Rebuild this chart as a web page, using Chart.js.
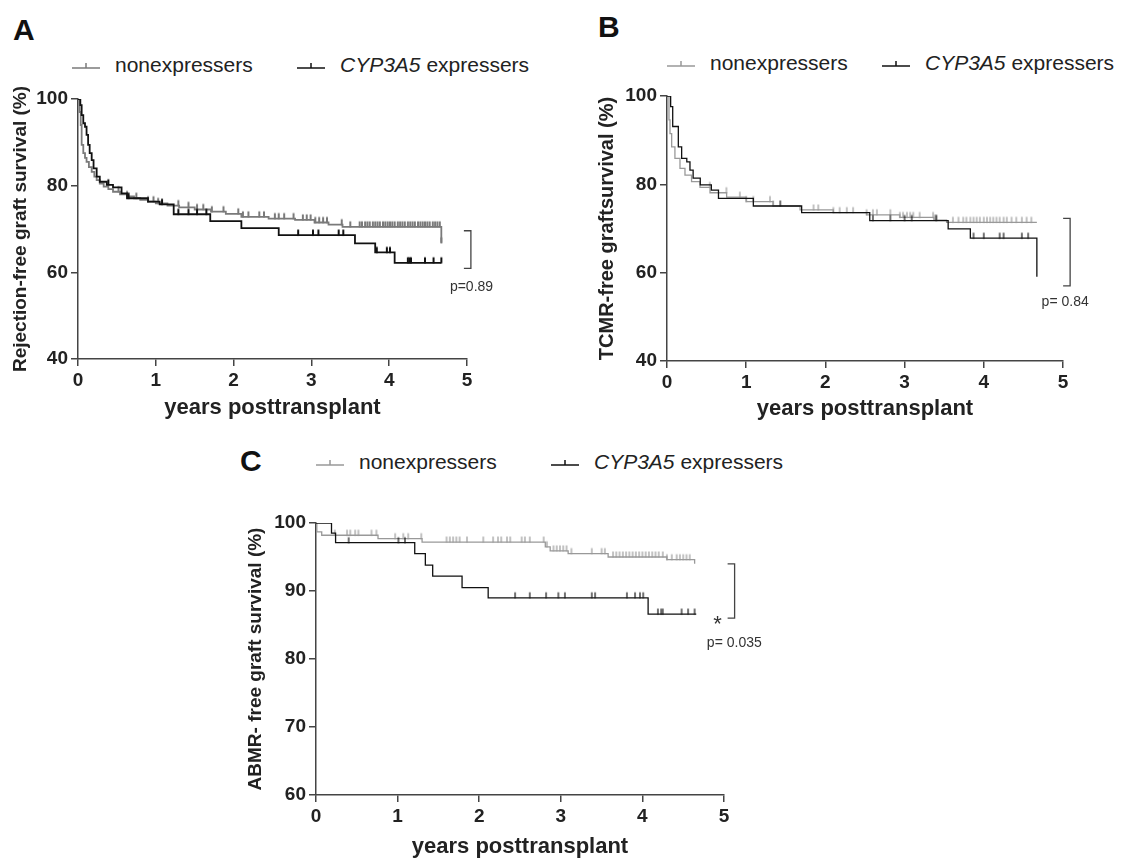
<!DOCTYPE html>
<html>
<head>
<meta charset="utf-8">
<script src="https://cdn.jsdelivr.net/npm/chart.js@4.4.1/dist/chart.umd.min.js"></script>
<style>
  body { margin: 0; width: 1131px; height: 858px; background: #fff; position: relative; overflow: hidden;
         font-family: "Liberation Sans", Arial, sans-serif; color: #222; }
  .panel { position: absolute; }
  .letter { position: absolute; font-weight: bold; font-size: 30px; line-height: 1; color: #111; }
  .item { position: absolute; display: flex; align-items: center; height: 26px; font-size: 21px; white-space: nowrap; }
  .item svg { margin-right: 15px; }
</style>
</head>
<body>

<div class="letter" style="left:13px; top:15px;">A</div>
<div class="letter" style="left:598px; top:12px;">B</div>
<div class="letter" style="left:240px; top:446px;">C</div>

<div id="legA"></div>
<div id="legB"></div>
<div id="legC"></div>

<div class="panel" style="left:0px; top:80px; width:530px; height:350px;"><canvas id="chartA"></canvas></div>
<div class="panel" style="left:580px; top:80px; width:551px; height:350px;"><canvas id="chartB"></canvas></div>
<div class="panel" style="left:230px; top:500px; width:560px; height:370px;"><canvas id="chartC"></canvas></div>

<script>
const seriesNames = ['nonexpressers', 'CYP3A5 expressers'];
const xTicks = [0, 1, 2, 3, 4, 5];
const yTicksAB = [40, 60, 80, 100];
const yTicksC = [60, 70, 80, 90, 100];

// A: rejection-free graft survival (time in years, survival %)
const aNonT = [0, 0.02, 0.035, 0.047, 0.068, 0.09, 0.11, 0.14, 0.176, 0.21, 0.24, 0.28, 0.33, 0.39, 0.45, 0.54, 0.63, 0.72, 0.8, 0.9, 1.0, 1.15, 1.3, 1.5, 1.71, 1.9, 2.1, 2.45, 2.79, 3.04, 3.22, 3.4, 4.67];
const aNonS = [100, 97, 94, 89.4, 87.5, 86.4, 85.5, 84.3, 83.2, 82.1, 81.3, 80.5, 79.8, 79.2, 78.6, 78.0, 77.5, 77.1, 76.7, 76.3, 75.9, 75.4, 75.0, 74.5, 74.0, 73.5, 72.8, 72.4, 72.1, 71.5, 71.0, 70.5, 66.8];
const aExpT = [0, 0.03, 0.047, 0.068, 0.09, 0.11, 0.13, 0.15, 0.176, 0.2, 0.24, 0.28, 0.37, 0.45, 0.56, 0.63, 0.9, 1.05, 1.23, 1.70, 2.10, 2.58, 3.56, 3.82, 4.07, 4.67];
const aExpS = [100, 98.6, 96.3, 94.4, 93.6, 91.7, 89.4, 87.5, 85.9, 84.0, 82.1, 80.9, 80.2, 79.6, 78.2, 77.1, 76.3, 75.7, 73.4, 71.8, 70.2, 68.6, 66.7, 64.6, 62.2, 62.2];
const aNonCens = [0.52, 0.63, 0.75, 0.9, 0.97, 1.03, 1.29, 1.42, 1.53, 1.61, 1.72, 1.87, 2.06, 2.12, 2.19, 2.33, 2.39, 2.53, 2.58, 2.65, 2.77, 2.89, 2.94, 2.99, 3.05, 3.1, 3.15, 3.2, 3.39, 3.5,
  3.62, 3.65, 3.69, 3.72, 3.75, 3.79, 3.82, 3.85, 3.88, 3.92, 3.95, 3.98, 4.01, 4.04, 4.07, 4.11, 4.14, 4.17, 4.2, 4.24, 4.27, 4.3, 4.33, 4.37, 4.4, 4.43, 4.46, 4.49, 4.52, 4.56, 4.59, 4.62, 4.65, 4.67];
const aExpCens = [0.39, 0.65, 1.08, 1.29, 1.42, 1.53, 1.65, 2.83, 3.02, 3.09, 3.35, 3.41, 3.84, 3.97, 4.01, 4.24, 4.26, 4.28, 4.46, 4.57, 4.67];

// B: TCMR-free graft survival
const bNonT = [0, 0.025, 0.038, 0.059, 0.1, 0.164, 0.227, 0.31, 0.417, 0.543, 0.753, 1.0, 1.34, 1.68, 2.1, 2.52, 2.94, 3.37, 3.53, 4.67];
const bNonS = [100, 94.6, 91.5, 88.5, 85.9, 83.6, 82.1, 80.6, 79.3, 78.1, 77.1, 76.1, 75.1, 74.2, 73.6, 73.1, 72.5, 71.9, 71.4, 71.4];
const bExpT = [0, 0.046, 0.072, 0.143, 0.185, 0.25, 0.29, 0.33, 0.42, 0.56, 0.65, 1.09, 1.7, 2.56, 3.55, 3.83, 4.67];
const bExpS = [100, 97.6, 93.1, 88.5, 85.9, 85.1, 83.2, 81.4, 79.9, 78.7, 76.8, 75.1, 73.6, 71.8, 69.9, 67.8, 59.1];
const bNonCens = [0.54, 0.75, 0.92, 1.0, 1.09, 1.3, 1.34, 1.85, 1.91, 2.1, 2.18, 2.27, 2.35, 2.52, 2.6, 2.65, 2.82, 2.94, 2.98, 3.03, 3.07, 3.11, 3.19, 3.36, 3.38, 3.4,
  3.61, 3.68, 3.74, 3.78, 3.83, 3.87, 3.91, 3.95, 4.0, 4.04, 4.08, 4.12, 4.16, 4.2, 4.25, 4.29, 4.35, 4.41, 4.48, 4.54, 4.6];
const bExpCens = [1.43, 2.6, 2.82, 3.0, 3.09, 3.4, 3.87, 4.0, 4.2, 4.25, 4.48, 4.56];

// C: ABMR-free graft survival
const cNonT = [0, 0.01, 0.07, 0.76, 1.30, 2.81, 2.87, 3.09, 3.58, 4.30, 4.64];
const cNonS = [100, 98.7, 98.2, 97.7, 97.2, 96.5, 95.9, 95.5, 95.0, 94.6, 94.0];
const cExpT = [0, 0.19, 0.24, 1.21, 1.34, 1.43, 1.79, 2.11, 4.07, 4.66];
const cExpS = [100, 98.5, 97.1, 95.5, 93.8, 92.2, 90.5, 89.0, 86.6, 86.6];
const cNonCens = [0.23, 0.38, 0.42, 0.48, 0.52, 0.68, 0.74, 0.97, 1.07, 1.13, 1.29, 1.6, 1.64, 1.68, 1.72, 1.76, 1.85, 2.05, 2.17, 2.23, 2.27, 2.34, 2.38, 2.52, 2.56, 2.62,
  2.79, 2.83, 2.91, 2.95, 2.99, 3.03, 3.07, 3.13, 3.38, 3.5, 3.54, 3.64, 3.68, 3.72, 3.76, 3.8, 3.84, 3.88, 3.92, 3.96, 4.0, 4.04, 4.08, 4.12, 4.16, 4.2, 4.25,
  4.3, 4.36, 4.42, 4.46, 4.5, 4.54, 4.58];
const cExpCens = [0.4, 1.01, 1.09, 2.44, 2.62, 2.82, 2.97, 3.05, 3.38, 3.42, 3.81, 3.91, 3.97, 4.01, 4.19, 4.23, 4.25, 4.48, 4.56, 4.64];

const FONT = '"Liberation Sans", Arial, sans-serif';

function stepValue(times, surv, t) {
  let v = surv[0];
  for (let i = 0; i < times.length; i++) if (times[i] <= t) v = surv[i];
  return v;
}
const curve = (times, surv) => times.map((t, i) => ({ x: t, y: surv[i] }));
const censorPts = (cens, times, surv) => cens.map(t => ({ x: t, y: stepValue(times, surv, t) }));

// censor mark: short vertical tick standing on the curve
function tickMark(color, w) {
  const c = document.createElement('canvas');
  c.width = 4; c.height = 14;
  const g = c.getContext('2d');
  g.strokeStyle = color;
  g.lineWidth = w;
  g.beginPath(); g.moveTo(2, 1.5); g.lineTo(2, 7.5); g.stroke();
  return c;
}

function legendHtml(el, top, lefts, grey) {
  const cols = [grey, '#111'];
  const texts = [seriesNames[0], '<i>CYP3A5</i>&nbsp;expressers'];
  el.innerHTML = lefts.map((l, i) =>
    `<div class="item" style="left:${l}px; top:${top}px;">` +
    `<svg width="28" height="12"><line x1="0" y1="9" x2="28" y2="9" stroke="${cols[i]}" stroke-width="1.5"/>` +
    `<line x1="14" y1="4" x2="14" y2="9" stroke="${cols[i]}" stroke-width="1.5"/></svg><span>${texts[i]}</span></div>`).join('');
}
legendHtml(document.getElementById('legA'), 52, [72, 297], '#7a7a7a');
legendHtml(document.getElementById('legB'), 50, [667, 882], '#999');
legendHtml(document.getElementById('legC'), 449, [316, 551], '#999');

const bracketPlugin = {
  id: 'bracket',
  afterDraw(chart, args, o) {
    const { ctx, scales: { x, y } } = chart;
    const bx = x.getPixelForValue(o.x);
    const t = y.getPixelForValue(o.top), b = y.getPixelForValue(o.bottom);
    ctx.save();
    ctx.strokeStyle = '#444';
    ctx.lineWidth = 1.3;
    ctx.beginPath();
    ctx.moveTo(bx - 7, t); ctx.lineTo(bx, t); ctx.lineTo(bx, b); ctx.lineTo(bx - 7, b);
    ctx.stroke();
    ctx.fillStyle = '#333';
    ctx.font = '14px ' + FONT;
    ctx.textAlign = 'left';
    ctx.textBaseline = 'middle';
    ctx.fillText(o.label, x.getPixelForValue(o.labelX), y.getPixelForValue(o.labelY));
    if (o.star) {
      ctx.font = '22px ' + FONT;
      ctx.textAlign = 'center';
      ctx.textBaseline = 'alphabetic';
      ctx.fillText('*', x.getPixelForValue(o.starX), y.getPixelForValue(o.starY));
    }
    ctx.restore();
  }
};

function makePanel(id, p) {
  const tickFont = { family: FONT, size: 19, weight: 'bold' };
  new Chart(document.getElementById(id), {
    type: 'line',
    data: {
      datasets: [
        { label: seriesNames[1], data: curve(p.expT, p.expS), stepped: true, borderColor: '#111', borderWidth: p.lw, pointRadius: 0 },
        { data: censorPts(p.expC, p.expT, p.expS), showLine: false, pointStyle: tickMark('#111', p.tw), pointRadius: 4 },
        { label: seriesNames[0], data: curve(p.nonT, p.nonS), stepped: true, borderColor: p.grey, borderWidth: p.lw, pointRadius: 0 },
        { data: censorPts(p.nonC, p.nonT, p.nonS), showLine: false, pointStyle: tickMark(p.grey, p.tw), pointRadius: 4 }
      ]
    },
    options: {
      responsive: true,
      maintainAspectRatio: false,
      animation: false,
      layout: { padding: { top: p.padTop, right: p.padRight, left: 0, bottom: 0 } },
      plugins: { legend: { display: false }, tooltip: { enabled: false }, bracket: p.bracket },
      scales: {
        x: {
          type: 'linear', min: 0, max: 5,
          afterBuildTicks: s => { s.ticks = xTicks.map(v => ({ value: v })); },
          afterFit: s => { s.height = p.xH; },
          ticks: { font: tickFont, color: '#222', padding: 3 },
          grid: { drawOnChartArea: false, tickLength: 7, color: '#444', lineWidth: 1.5 },
          border: { color: '#444', width: 1.5 },
          title: { display: true, text: 'years posttransplant', color: '#222',
                   font: { family: FONT, size: 22, weight: 'bold' }, padding: { top: 0, bottom: p.xTitlePad } }
        },
        y: {
          min: p.yTicks[0], max: p.yTicks[p.yTicks.length - 1],
          afterBuildTicks: s => { s.ticks = p.yTicks.map(v => ({ value: v })); },
          afterFit: s => { s.width = p.yW; },
          ticks: { font: tickFont, color: '#222', padding: 3 },
          grid: { drawOnChartArea: false, tickLength: 7, color: '#444', lineWidth: 1.5 },
          border: { color: '#444', width: 1.5 },
          title: { display: true, text: p.yTitle, color: '#222',
                   font: { family: FONT, size: p.yTitleSize, weight: 'bold' }, padding: { top: p.yTitlePad, bottom: 0 } }
        }
      }
    },
    plugins: [bracketPlugin]
  });
}

makePanel('chartA', {
  expT: aExpT, expS: aExpS, expC: aExpCens, nonT: aNonT, nonS: aNonS, nonC: aNonCens,
  grey: '#7a7a7a', lw: 1.8, tw: 2, yTicks: yTicksAB,
  padTop: 19, padRight: 63, xH: 71, yW: 78, xTitlePad: 9, yTitlePad: 9, yTitleSize: 19,
  yTitle: 'Rejection-free graft survival (%)',
  bracket: { x: 5.05, top: 69.6, bottom: 60.9, label: 'p=0.89', labelX: 4.78, labelY: 56.6 }
});

makePanel('chartB', {
  expT: bExpT, expS: bExpS, expC: bExpCens, nonT: bNonT, nonS: bNonS, nonC: bNonCens,
  grey: '#999', lw: 1.3, tw: 1.2, yTicks: yTicksAB,
  padTop: 16, padRight: 68, xH: 69, yW: 87, xTitlePad: 8, yTitlePad: 15, yTitleSize: 20,
  yTitle: 'TCMR-free graftsurvival (%)',
  bracket: { x: 5.09, top: 72.3, bottom: 57, label: 'p= 0.84', labelX: 4.73, labelY: 53.4 }
});

makePanel('chartC', {
  expT: cExpT, expS: cExpS, expC: cExpCens, nonT: cNonT, nonS: cNonS, nonC: cNonCens,
  grey: '#999', lw: 1.3, tw: 1.2, yTicks: yTicksC,
  padTop: 23, padRight: 66, xH: 75, yW: 86, xTitlePad: 10, yTitlePad: 14, yTitleSize: 19,
  yTitle: 'ABMR- free graft survival (%)',
  bracket: { x: 5.13, top: 94, bottom: 86, label: 'p= 0.035', labelX: 4.79, labelY: 82.4,
             star: true, starX: 4.92, starY: 84.1 }
});
</script>
</body>
</html>
